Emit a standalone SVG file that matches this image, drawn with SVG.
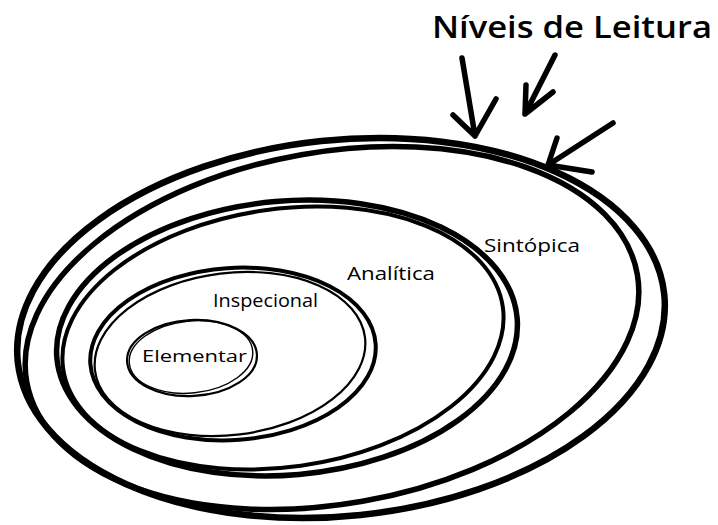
<svg xmlns="http://www.w3.org/2000/svg" width="718" height="525" viewBox="0 0 718 525">
<style>
.ring{fill:none;stroke:#000;stroke-linecap:round}
.s1{stroke-width:6.5}
.s2{stroke-width:5.5}
.s3{stroke-width:4}
.s4{stroke-width:2.2}
.lbl{font-family:"Open Sans","Liberation Sans",sans-serif;fill:#000}
.arr{fill:none;stroke:#000;stroke-width:5.5;stroke-linecap:round;stroke-linejoin:round}
</style>
<rect width="718" height="525" fill="#fff"/>
<g id="sintopica">
<ellipse class="ring s1" cx="341" cy="328" rx="325" ry="188" transform="rotate(-6 341 328)"/>
<ellipse class="ring s2" cx="332" cy="328" rx="310" ry="176" transform="rotate(-10 332 328)"/>
<text class="lbl" x="484" y="252" font-size="19" textLength="96" lengthAdjust="spacingAndGlyphs">Sintópica</text>
</g>
<g id="analitica">
<ellipse class="ring s2" cx="287" cy="338" rx="231" ry="137" transform="rotate(-5 287 338)"/>
<ellipse class="ring s3" cx="283" cy="338" rx="222" ry="129" transform="rotate(-8 283 338)"/>
<text class="lbl" x="347" y="280" font-size="18" textLength="88" lengthAdjust="spacingAndGlyphs">Analítica</text>
</g>
<g id="inspecional">
<ellipse class="ring s3" cx="233" cy="354" rx="143" ry="86" transform="rotate(-4 233 354)"/>
<ellipse class="ring s4" cx="230" cy="354" rx="136" ry="81" transform="rotate(-7 230 354)"/>
<text class="lbl" x="213" y="307" font-size="18" textLength="105" lengthAdjust="spacingAndGlyphs">Inspecional</text>
</g>
<g id="elementar">
<ellipse class="ring s4" cx="192" cy="358" rx="65" ry="38" transform="rotate(-3 192 358)"/>
<ellipse class="ring" stroke-width="1.4" cx="191" cy="357" rx="62" ry="36" transform="rotate(-6 191 357)"/>
<text class="lbl" x="142" y="362" font-size="16" textLength="105" lengthAdjust="spacingAndGlyphs">Elementar</text>
</g>
<g id="title">
<text class="lbl" x="432" y="38" font-size="30" font-weight="600" textLength="280" lengthAdjust="spacingAndGlyphs">Níveis de Leitura</text>
</g>
<g id="connectors">
<path class="arr" d="M462 58 L475 136 M453 115 L475 136 L496 99"/>
<path class="arr" d="M555 55 L525 114 M526 85 L525 114 L553 92"/>
<path class="arr" d="M613 123 L548 165 M557 138 L548 165 L592 172"/>
</g>
</svg>
